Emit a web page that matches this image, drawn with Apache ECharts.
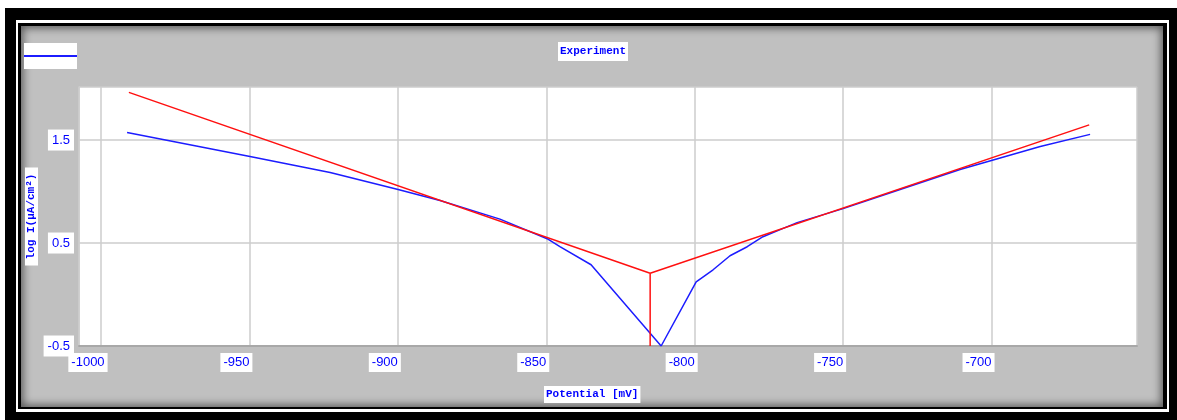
<!DOCTYPE html>
<html>
<head>
<meta charset="utf-8">
<script src="https://cdn.jsdelivr.net/npm/echarts@6/dist/echarts.min.js"></script>
<style>
html,body{margin:0;padding:0;background:#fff;overflow:hidden}
#outer{position:absolute;left:5px;top:8px;width:1172px;height:412px;background:#000}
#whiteline{position:absolute;left:16px;top:20px;width:1149px;height:386px;border-style:solid;border-color:#fff;border-width:3px 2px 3px 2px;background:#000}
#panel{position:absolute;left:21px;top:26px;width:1142px;height:381px;background:#c0c0c0;box-shadow:inset 0 0 8px 2px rgba(0,0,0,0.55)}
#c{position:absolute;left:0;top:0;width:1177px;height:420px}
</style>
</head>
<body>
<div id="outer"></div>
<div id="whiteline"></div>
<div id="panel"></div>
<div id="c"></div>
<script>
// Experiment curve: potential (mV) and log I
const experimentPotential = [-991.2, -949.8, -922.8, -899.9, -885.8, -865.6, -849.7, -845.4, -834.9, -817.4, -811.3, -799.5, -793.8, -788.1, -782.3, -777.0, -771.2, -765.5, -750.0, -730.8, -710.6, -683.6, -666.8];
const experimentLogI     = [1.574, 1.340, 1.185, 1.019, 0.912, 0.732, 0.542, 0.464, 0.289, -0.296, -0.500, 0.123, 0.240, 0.376, 0.464, 0.561, 0.630, 0.698, 0.834, 1.019, 1.214, 1.438, 1.555];
// Tafel fit lines (anodic/cathodic) with the corrosion potential marker
const fitPotential = [-990.6, -815.0, -815.0, -815.0, -667.1];
const fitLogI      = [1.963, 0.206, -0.5, 0.206, 1.647];
// Tick labels
const xTickValues = [-1000, -950, -900, -850, -800, -750, -700];
const yTickValues = [-0.5, 0.5, 1.5];

const blue = '#0000ff';
const mono = 'Liberation Mono';
const isTick = (list, v) => list.includes(Math.round(v * 1000) / 1000);

const chart = echarts.init(document.getElementById('c'), null, {renderer: 'canvas'});
chart.setOption({
  animation: false,
  backgroundColor: 'transparent',
  title: [
    {text: 'Experiment', left: 558, top: 42, padding: [4, 2, 4, 2], backgroundColor: '#fff',
     textStyle: {color: blue, fontFamily: mono, fontWeight: 'bold', fontSize: 11}},
    {text: 'Potential [mV]', left: 544, top: 386, padding: [3, 2, 3, 2], backgroundColor: '#fff',
     textStyle: {color: blue, fontFamily: mono, fontWeight: 'bold', fontSize: 11}}
  ],
  legend: {
    left: 24, top: 43, data: ['Experiment'], icon: 'rect', itemWidth: 53, itemHeight: 2,
    padding: [12, 0, 12, 0], backgroundColor: '#fff', formatter: () => '',
    textStyle: {fontSize: 1}
  },
  grid: {left: 79, right: 40, top: 87, bottom: 74, show: true, backgroundColor: '#fff', borderWidth: 0},
  xAxis: {
    type: 'value', min: -1007.4, max: -651, minInterval: 50, maxInterval: 50, splitNumber: 7,
    axisLine: {show: true, onZero: false, lineStyle: {color: '#a8a8a8', width: 2}},
    axisTick: {show: false},
    splitLine: {show: true, lineStyle: {color: '#cdcdcd', width: 1.5}},
    axisLabel: {
      margin: 7, align: 'center', padding: [0, 26, 0, 0],
      formatter: v => isTick(xTickValues, v) ? '{a|' + v + '}' : '',
      rich: {a: {backgroundColor: '#fff', padding: [3, 3, 3, 3], color: blue, fontFamily: 'Liberation Sans', fontSize: 13}}
    }
  },
  yAxis: {
    type: 'value', min: -0.5, max: 2.015, interval: 1,
    name: 'log I(µA/cm²)', nameLocation: 'middle', nameRotate: 90, nameGap: 41, nameMoveOverlap: false,
    nameTextStyle: {color: blue, fontFamily: mono, fontWeight: 'bold', fontSize: 11, backgroundColor: '#fff', padding: [1, 6, 1, 6]},
    axisLine: {show: true, lineStyle: {color: '#cdcdcd', width: 1.5}},
    axisTick: {show: false},
    splitLine: {show: true, lineStyle: {color: '#cdcdcd', width: 1.5}},
    axisLabel: {
      margin: 5,
      formatter: v => isTick(yTickValues, v) ? '{a|' + v + '}' : '',
      rich: {a: {backgroundColor: '#fff', padding: [4, 4, 4, 4], color: blue, fontFamily: 'Liberation Sans', fontSize: 13}}
    }
  },
  series: [
    {name: 'Experiment', type: 'line', showSymbol: false, color: '#1c1cff',
     lineStyle: {width: 1.5, color: '#1c1cff'},
     data: experimentPotential.map((x, i) => [x, experimentLogI[i]])},
    {name: 'Tafel fit', type: 'line', showSymbol: false, color: '#ff1010',
     lineStyle: {width: 1.5, color: '#ff1010'},
     data: fitPotential.map((x, i) => [x, fitLogI[i]])}
  ]
});
</script>
</body>
</html>
